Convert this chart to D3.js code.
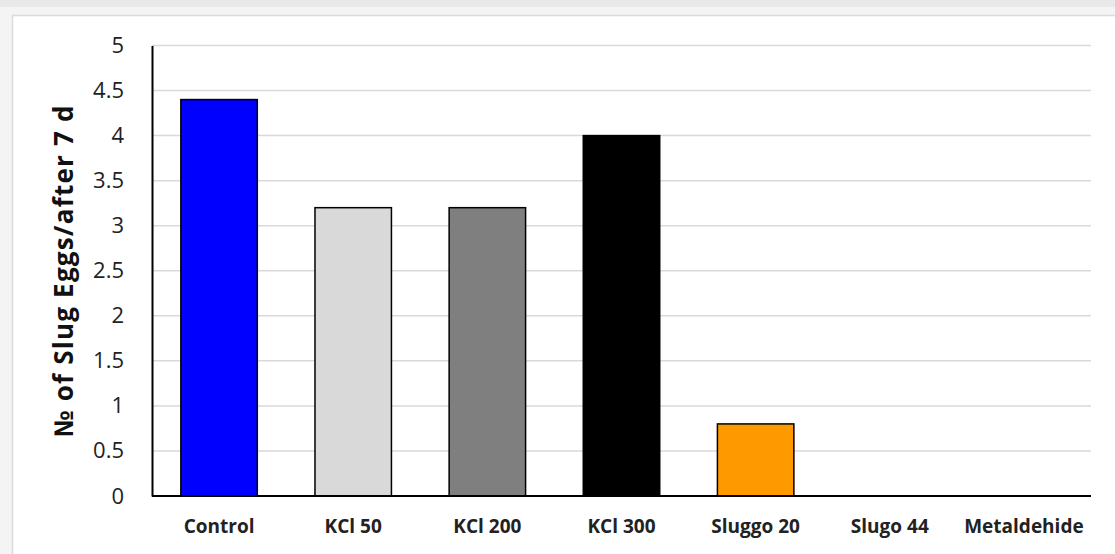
<!DOCTYPE html>
<html>
<head>
<meta charset="utf-8">
<script src="https://cdn.jsdelivr.net/npm/d3@7"></script>
<style>
  html, body { margin: 0; padding: 0; background: #f4f4f4; }
  svg { display: block; }
</style>
</head>
<body>
<svg id="chart" width="1115" height="554"></svg>
<script>
// Slug eggs counted after 7 days, per treatment
const categories = ["Control", "KCl 50", "KCl 200", "KCl 300", "Sluggo 20", "Slugo 44", "Metaldehide"];
const eggs = [4.4, 3.2, 3.2, 4.0, 0.8, 0, 0];
const barColors = ["#0000FF", "#D9D9D9", "#7F7F7F", "#000000", "#FF9900", "#FFFFFF", "#FFFFFF"];
const yTicks = [0, 0.5, 1, 1.5, 2, 2.5, 3, 3.5, 4, 4.5, 5];
const yTitle = "№ of Slug Eggs/after 7 d";

const svg = d3.select("#chart");
const W = 1115, H = 554;

// page frame
svg.append("rect").attr("x", 0).attr("y", 0).attr("width", W).attr("height", 7).attr("fill", "#e9e9e9");
svg.append("rect").attr("x", 12.5).attr("y", 15.5).attr("width", W).attr("height", H)
  .attr("fill", "#ffffff").attr("stroke", "#dcdcdc").attr("stroke-width", 1.5);

const margin = { left: 152, right: 1091, top: 45.5, bottom: 496 };

const x = d3.scaleBand().domain(categories).range([margin.left, margin.right]).paddingInner(0.43).paddingOuter(0.215);
const y = d3.scaleLinear().domain([0, 5]).range([margin.bottom, margin.top]);

// gridlines
svg.append("g").selectAll("line").data(yTicks.filter(d => d > 0)).join("line")
  .attr("x1", margin.left).attr("x2", margin.right)
  .attr("y1", d => y(d)).attr("y2", d => y(d))
  .attr("stroke", "#d9d9d9").attr("stroke-width", 1.5);

// bars
const data = categories.map((c, i) => ({ c, v: eggs[i], col: barColors[i] }));
svg.append("g").selectAll("rect").data(data.filter(d => d.v > 0)).join("rect")
  .attr("x", d => x(d.c)).attr("width", x.bandwidth())
  .attr("y", d => y(d.v)).attr("height", d => y(0) - y(d.v))
  .attr("fill", d => d.col).attr("stroke", "#000").attr("stroke-width", 1.5);

// y axis
const yAxis = svg.append("g").attr("transform", `translate(${margin.left},0)`)
  .call(d3.axisLeft(y).tickValues(yTicks).tickSize(0).tickPadding(28).tickFormat(d3.format("")));
yAxis.select(".domain").attr("stroke", "#000").attr("stroke-width", 2);
yAxis.selectAll("text").attr("font-family", "'Open Sans', sans-serif").attr("font-size", 22).attr("fill", "#222");

// x axis
const xAxis = svg.append("g").attr("transform", `translate(0,${margin.bottom})`)
  .call(d3.axisBottom(x).tickSize(0).tickPadding(24));
xAxis.select(".domain").attr("d", `M${margin.left},0H${margin.right}`).attr("stroke", "#000").attr("stroke-width", 2);
xAxis.selectAll("text").attr("font-family", "'Open Sans', sans-serif").attr("font-size", 19)
  .attr("font-weight", "bold").attr("fill", "#222");

// y title
svg.append("text")
  .attr("transform", `translate(73,${(margin.top + margin.bottom) / 2}) rotate(-90)`)
  .attr("text-anchor", "middle")
  .attr("font-family", "'Open Sans', sans-serif").attr("font-size", 26).attr("font-weight", "bold")
  .attr("letter-spacing", 1.2)
  .attr("fill", "#111")
  .text(yTitle);
</script>
</body>
</html>
